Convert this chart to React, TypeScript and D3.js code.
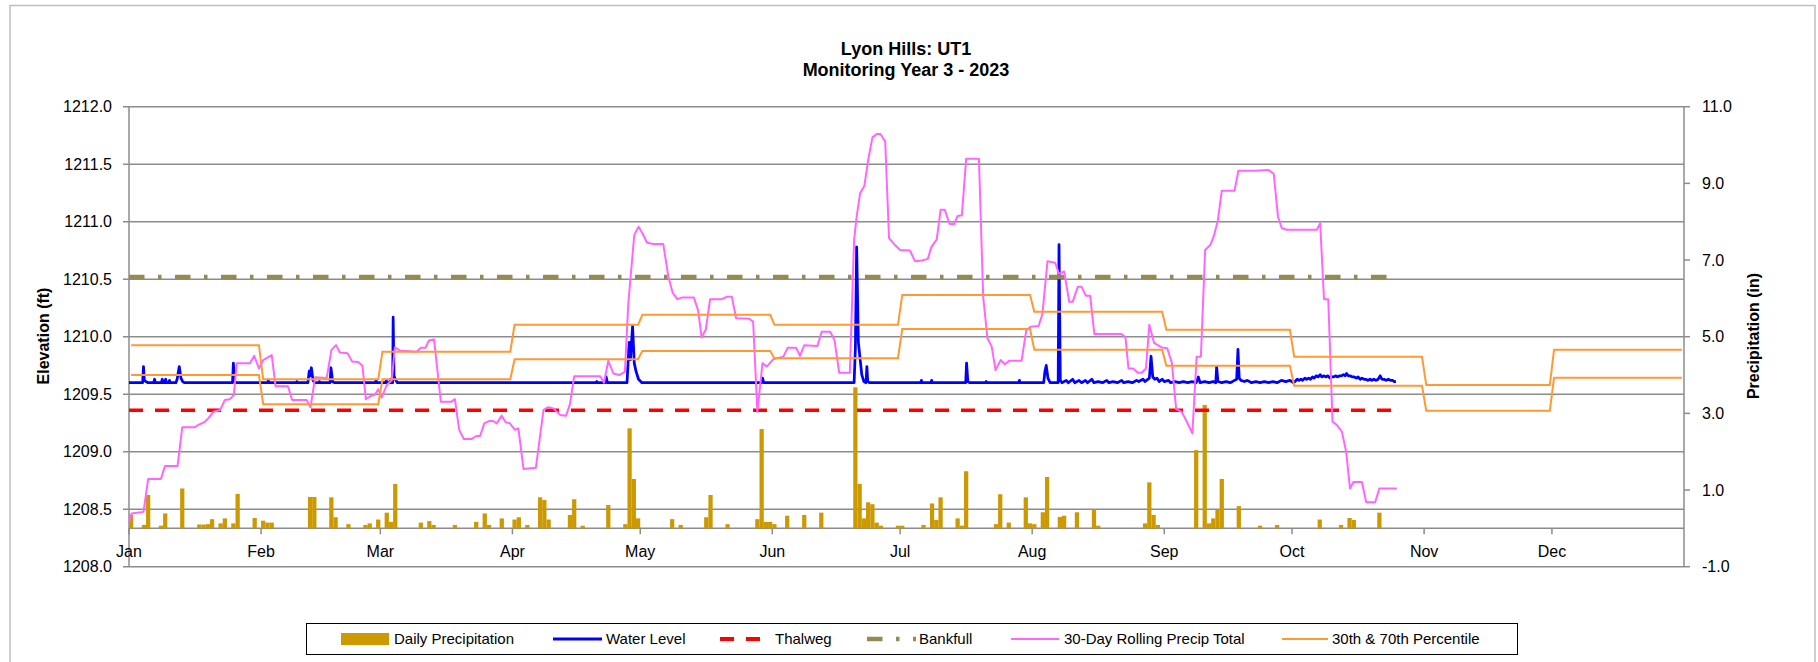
import React from "react";
import * as d3 from "d3";

// chart text
const TITLE = "Lyon Hills: UT1";
const SUBTITLE = "Monitoring Year 3 - 2023";
const LEFT_TITLE = "Elevation (ft)";
const RIGHT_TITLE = "Precipitation (in)";

// axis ticks
const MONTHS = ["Jan", "Feb", "Mar", "Apr", "May", "Jun", "Jul", "Aug", "Sep", "Oct", "Nov", "Dec"];
const MONTH_START = [0, 31, 59, 90, 120, 151, 181, 212, 243, 273, 304, 334];
const YEAR_DAYS = 365;
const ELEV_TICKS = [1208.0, 1208.5, 1209.0, 1209.5, 1210.0, 1210.5, 1211.0, 1211.5, 1212.0];
const PRECIP_TICKS = [-1, 1, 3, 5, 7, 9, 11];

// reference elevations (ft), drawn until the end of record (day of year)
const THALWEG = 1209.36;
const BANKFULL = 1210.52;
const RECORD_END = 297.4;

// monthly 30th / 70th percentile precipitation (in)
const P70 = [4.78, 3.89, 4.61, 5.31, 5.57, 5.31, 6.09, 5.65, 5.18, 4.48, 3.74, 4.66];
const P30 = [4.0, 3.24, 3.89, 4.41, 4.63, 4.44, 5.2, 4.66, 4.24, 3.72, 3.07, 3.93];

// daily precipitation (day of year, inches)
const RAIN_DAY = [
  0, 3, 4, 7, 8, 12, 16, 17, 18, 19, 21, 22, 24, 25, 29, 31, 32, 33, 42, 43, 47, 48, 51, 55, 56, 58, 60, 61, 62,
  68, 70, 71, 76, 81, 83, 84, 87, 90, 91, 93, 96, 97, 98, 103, 104, 106, 112, 116, 117, 118, 119, 127, 129, 135,
  136, 140, 147, 148, 149, 150, 151, 154, 158, 162, 170, 171, 172, 173, 174, 175, 176, 180, 181, 186, 188, 189,
  190, 194, 195, 196, 203, 204, 206, 210, 211, 212, 214, 215, 218, 219, 222, 226, 227, 238, 239, 240, 241, 250,
  252, 253, 254, 255, 256, 260, 265, 269, 279, 284, 286, 287, 293,
];
const RAIN_IN = [
  0.35, 0.09, 0.87, 0.07, 0.39, 1.04, 0.1, 0.1, 0.11, 0.24, 0.13, 0.26, 0.13, 0.9, 0.27, 0.2, 0.15, 0.15, 0.82,
  0.82, 0.81, 0.29, 0.11, 0.09, 0.13, 0.23, 0.41, 0.17, 1.16, 0.15, 0.19, 0.09, 0.09, 0.17, 0.39, 0.09, 0.26,
  0.23, 0.29, 0.09, 0.81, 0.74, 0.23, 0.35, 0.76, 0.07, 0.61, 0.11, 2.61, 1.29, 0.26, 0.24, 0.09, 0.29, 0.87,
  0.11, 0.24, 2.59, 0.17, 0.17, 0.11, 0.33, 0.35, 0.41, 3.68, 1.16, 0.26, 0.68, 0.63, 0.15, 0.07, 0.07, 0.07,
  0.09, 0.65, 0.22, 0.81, 0.26, 0.07, 1.49, 0.11, 0.89, 0.15, 0.81, 0.13, 0.11, 0.42, 1.34, 0.3, 0.33, 0.42, 0.5,
  0.07, 0.13, 1.2, 0.35, 0.09, 2.04, 3.22, 0.13, 0.26, 0.5, 1.29, 0.58, 0.07, 0.09, 0.23, 0.09, 0.27, 0.22, 0.41,
];

// 30-day rolling precipitation total (day of year, inches)
const ROLL30: [number, number][] = [
  [0, 0.17], [0.6, 0.39], [3.4, 0.43], [4.5, 1.29], [7.5, 1.29], [8.45, 1.63], [11.4, 1.63], [12.5, 2.64],
  [15.5, 2.64], [16.3, 2.7], [17.8, 2.78], [18.6, 2.87], [19.8, 3.04], [21.4, 3.09], [22.5, 3.35], [23.7, 3.37],
  [24.6, 3.48], [25.3, 4.31], [28.4, 4.31], [29.4, 4.5], [30.5, 4.17], [31.5, 4.39], [33.5, 4.52], [34.4, 3.71],
  [37.3, 3.71], [38.3, 3.35], [41.7, 3.35], [42.6, 3.16], [43.7, 3.94], [46.4, 3.92], [47.5, 4.65], [48.6, 4.78],
  [49.5, 4.59], [51.3, 4.57], [52.4, 4.35], [53.8, 4.34], [54.8, 4.24], [55.6, 3.37], [56.8, 3.46], [57.7, 3.48],
  [58.5, 3.63], [59.3, 3.41], [60.5, 3.74], [61.7, 3.87], [62.4, 4.72], [63.6, 4.64], [67.5, 4.61], [68.5, 4.71],
  [69.6, 4.71], [70.4, 4.9], [71.6, 4.93], [73.2, 3.3], [75.6, 3.3], [76.5, 3.37], [77.5, 2.57], [78.6, 2.33],
  [80.4, 2.33], [81.5, 2.41], [82.4, 2.41], [83.4, 2.74], [84.5, 2.8], [85.5, 2.8], [86.3, 2.74], [87.5, 2.94],
  [88.4, 2.77], [89.4, 2.74], [90.6, 2.57], [91.4, 2.61], [92.6, 1.55], [95.5, 1.58], [97.3, 3.09], [98.4, 3.16],
  [99.6, 3.13], [101.2, 2.96], [102.6, 2.94], [103.5, 3.24], [104.5, 3.97], [110.6, 3.97], [111.5, 3.8],
  [112.5, 4.37], [113.7, 4.04], [115.1, 4.0], [116.4, 4.09], [117.2, 5.87], [118.6, 7.65], [119.6, 7.87],
  [120.6, 7.68], [121.6, 7.45], [123.1, 7.42], [125.4, 7.42], [126.6, 6.57], [127.6, 6.15], [128.7, 5.98],
  [129.7, 6.02], [132.6, 6.02], [133.6, 5.68], [134.4, 4.98], [135.4, 5.19], [136.4, 5.98], [139.1, 5.98],
  [140.3, 6.04], [141.5, 6.04], [142.5, 5.48], [145.6, 5.47], [146.5, 5.39], [147.5, 3.04], [148.7, 4.31],
  [149.7, 4.22], [151.2, 4.41], [153.6, 4.48], [154.6, 4.71], [156.6, 4.71], [157.5, 4.5], [158.5, 4.78],
  [161.6, 4.76], [162.6, 5.13], [164.6, 5.13], [165.6, 4.91], [166.7, 4.06], [169.2, 4.06], [170.2, 7.52],
  [170.8, 8.13], [171.6, 8.74], [172.6, 8.93], [173.5, 9.61], [174.5, 10.2], [175.5, 10.29], [176.4, 10.29],
  [177.5, 10.09], [178.4, 7.57], [179.8, 7.39], [181.0, 7.26], [183.3, 7.25], [184.5, 6.97], [186.1, 6.99],
  [187.5, 7.03], [188.3, 7.33], [189.6, 7.54], [190.5, 8.31], [191.5, 8.31], [192.6, 7.94], [193.7, 7.94],
  [194.5, 8.15], [195.5, 8.17], [196.5, 9.64], [199.5, 9.64], [200.5, 6.04], [201.5, 4.96], [202.5, 4.74],
  [203.4, 4.13], [204.6, 4.39], [205.6, 4.28], [206.6, 4.37], [209.5, 4.37], [210.6, 5.16], [211.6, 5.26],
  [213.5, 5.28], [214.4, 5.59], [215.6, 6.97], [217.4, 6.93], [218.3, 6.64], [219.5, 6.7], [220.7, 5.91],
  [221.5, 5.91], [222.7, 6.3], [223.6, 6.3], [224.6, 6.07], [225.6, 6.07], [226.6, 5.07], [233.0, 5.07],
  [233.9, 4.98], [234.6, 4.17], [235.7, 4.17], [236.8, 4.06], [237.7, 4.06], [238.7, 4.17], [239.5, 5.31],
  [240.6, 4.84], [242.4, 4.72], [243.7, 4.7], [244.8, 4.31], [245.8, 3.11], [247.1, 3.04], [248.3, 2.78],
  [249.6, 2.48], [250.6, 4.48], [251.6, 4.48], [252.6, 7.26], [253.8, 7.39], [254.6, 7.61], [255.6, 8.04],
  [256.5, 8.81], [259.5, 8.81], [260.4, 9.33], [264.3, 9.33], [267.5, 9.35], [268.7, 9.25], [269.7, 8.13],
  [270.6, 7.83], [271.8, 7.79], [278.8, 7.79], [279.6, 7.96], [280.5, 5.98], [281.5, 5.98], [282.5, 2.78],
  [283.5, 2.7], [284.7, 2.52], [285.7, 2.0], [286.6, 1.04], [287.4, 1.21], [289.4, 1.21], [290.4, 0.68],
  [292.5, 0.68], [293.5, 1.04], [297.6, 1.04],
];

// water level (day of year, ft)
const WATER: [number, number][] = [
  [0, 1209.6], [3.2, 1209.6], [3.4, 1209.74], [3.6, 1209.62], [4.0, 1209.61], [4.4, 1209.6], [5.8, 1209.6],
  [6.0, 1209.63], [6.2, 1209.6], [7.6, 1209.6], [7.8, 1209.63], [8.0, 1209.6], [8.4, 1209.6], [8.6, 1209.63],
  [8.8, 1209.6], [9.3, 1209.6], [9.5, 1209.62], [9.7, 1209.6], [11.0, 1209.6], [11.3, 1209.63], [11.8, 1209.74],
  [12.2, 1209.64], [12.6, 1209.61], [13.0, 1209.6], [24.3, 1209.6], [24.5, 1209.77], [24.8, 1209.61],
  [25.2, 1209.6], [32.5, 1209.6], [32.7, 1209.62], [32.9, 1209.6], [39.2, 1209.6], [39.4, 1209.61],
  [39.6, 1209.6], [42.0, 1209.6], [42.3, 1209.7], [42.5, 1209.66], [42.8, 1209.73], [43.2, 1209.62],
  [43.6, 1209.6], [44.5, 1209.6], [44.7, 1209.61], [44.9, 1209.6], [47.2, 1209.6], [47.4, 1209.73],
  [47.8, 1209.61], [48.2, 1209.6], [57.8, 1209.6], [58.0, 1209.62], [58.2, 1209.6], [60.2, 1209.6],
  [60.4, 1209.62], [60.6, 1209.6], [61.2, 1209.6], [61.4, 1209.63], [61.6, 1209.6], [61.9, 1209.6],
  [62.0, 1210.17], [62.2, 1209.66], [62.5, 1209.63], [63.0, 1209.6], [109.6, 1209.6], [109.8, 1209.61],
  [110.0, 1209.6], [111.8, 1209.6], [112.0, 1209.65], [112.3, 1209.6], [116.9, 1209.6], [117.4, 1209.95],
  [117.7, 1209.8], [118.2, 1210.09], [118.6, 1209.77], [119.0, 1209.7], [119.6, 1209.63], [120.4, 1209.6],
  [148.5, 1209.6], [148.7, 1209.64], [149.0, 1209.6], [170.2, 1209.6], [170.5, 1209.9], [170.8, 1210.78],
  [171.2, 1209.95], [171.6, 1209.81], [172.0, 1209.67], [172.5, 1209.61], [173.0, 1209.6], [173.2, 1209.74],
  [173.4, 1209.61], [173.8, 1209.6], [185.8, 1209.6], [186.0, 1209.62], [186.2, 1209.6], [188.2, 1209.6],
  [188.4, 1209.62], [188.6, 1209.6], [196.4, 1209.6], [196.6, 1209.77], [196.9, 1209.61], [197.3, 1209.6],
  [201.0, 1209.6], [201.2, 1209.61], [201.4, 1209.6], [208.8, 1209.6], [209.0, 1209.62], [209.2, 1209.6],
  [214.7, 1209.6], [215.0, 1209.7], [215.3, 1209.75], [215.7, 1209.64], [216.2, 1209.6], [218.1, 1209.6],
  [218.3, 1210.8], [218.6, 1209.62], [219.0, 1209.6], [220.0, 1209.62], [220.5, 1209.6], [221.5, 1209.63],
  [222.0, 1209.6], [223.0, 1209.62], [223.6, 1209.6], [224.5, 1209.62], [225.0, 1209.6], [226.0, 1209.63],
  [226.5, 1209.6], [227.5, 1209.61], [228.5, 1209.6], [229.5, 1209.62], [230.0, 1209.6], [231.0, 1209.61],
  [232.0, 1209.6], [233.0, 1209.62], [233.5, 1209.6], [234.5, 1209.61], [235.5, 1209.6], [236.5, 1209.62],
  [237.0, 1209.61], [238.0, 1209.63], [238.5, 1209.61], [239.5, 1209.64], [239.9, 1209.83], [240.3, 1209.65],
  [240.8, 1209.63], [241.3, 1209.64], [241.8, 1209.61], [242.5, 1209.63], [243.0, 1209.61], [244.0, 1209.62],
  [244.5, 1209.6], [245.5, 1209.61], [246.5, 1209.6], [247.5, 1209.61], [248.5, 1209.6], [249.5, 1209.61],
  [250.5, 1209.6], [251.0, 1209.65], [251.4, 1209.6], [252.5, 1209.61], [253.5, 1209.6], [254.5, 1209.61],
  [255.1, 1209.6], [255.3, 1209.74], [255.6, 1209.61], [256.5, 1209.6], [257.5, 1209.61], [258.5, 1209.6],
  [259.5, 1209.62], [260.0, 1209.63], [260.3, 1209.89], [260.6, 1209.64], [261.0, 1209.62], [261.8, 1209.61],
  [262.5, 1209.62], [263.5, 1209.6], [264.5, 1209.61], [265.5, 1209.6], [266.5, 1209.61], [267.5, 1209.6],
  [268.5, 1209.61], [269.5, 1209.6], [270.5, 1209.62], [271.5, 1209.61], [272.5, 1209.62], [273.3, 1209.6],
  [273.7, 1209.61], [274.2, 1209.63], [274.6, 1209.62], [275.1, 1209.63], [275.5, 1209.62], [276.0, 1209.64],
  [276.4, 1209.63], [276.9, 1209.64], [277.3, 1209.63], [277.8, 1209.65], [278.2, 1209.64], [278.7, 1209.66],
  [279.1, 1209.65], [279.6, 1209.67], [280.0, 1209.65], [280.5, 1209.66], [280.9, 1209.65], [281.4, 1209.66],
  [281.9, 1209.64], [282.3, 1209.65], [282.8, 1209.65], [283.2, 1209.66], [283.7, 1209.65], [284.1, 1209.66],
  [284.6, 1209.66], [285.1, 1209.67], [285.5, 1209.66], [285.8, 1209.68], [286.2, 1209.66], [286.7, 1209.66],
  [287.1, 1209.65], [287.6, 1209.65], [288.1, 1209.64], [288.5, 1209.65], [289.0, 1209.63], [289.4, 1209.64],
  [289.9, 1209.63], [290.3, 1209.63], [290.8, 1209.62], [291.3, 1209.63], [291.7, 1209.62], [292.2, 1209.63],
  [292.7, 1209.62], [293.2, 1209.63], [293.7, 1209.66], [294.1, 1209.63], [294.6, 1209.63], [295.1, 1209.62],
  [295.6, 1209.63], [296.1, 1209.62], [296.6, 1209.62], [297.0, 1209.61], [297.4, 1209.61],
];

// colours
const C_RAIN = "#CC9900";
const C_WATER = "#0000FF";
const C_THALWEG = "#FF0000";
const C_BANKFULL = "#948A54";
const C_ROLL = "#FF66FF";
const C_PCT = "#FF9933";
const C_GRID = "#8C8C8C";

const FONT = "'Liberation Sans', Arial, sans-serif";
const W = 1818;
const H = 662;
const PLOT = { left: 129, right: 1684, top: 106.7, bottom: 566.7 };

const BANK_DASH = "15.5 13.5 3.5 13.5";
const THAL_DASH = "14 12";

// monthly steps -> points at first and last day of each month (plotted at mid-day)
const stepPoints = (vals: number[]): [number, number][] => {
  const pts: [number, number][] = [];
  vals.forEach((v, i) => {
    const end = i < 11 ? MONTH_START[i + 1] - 1 : YEAR_DAYS - 1;
    pts.push([MONTH_START[i] + 0.5, v]);
    pts.push([end + 0.5, v]);
  });
  return pts;
};

const App: React.FC = () => {
  const x = d3.scaleLinear().domain([0, YEAR_DAYS]).range([PLOT.left, PLOT.right]);
  const yE = d3.scaleLinear().domain([1208, 1212]).range([PLOT.bottom, PLOT.top]);
  const yP = d3.scaleLinear().domain([-1, 11]).range([PLOT.bottom, PLOT.top]);

  const elevLine = d3
    .line<[number, number]>()
    .x((d) => x(d[0]))
    .y((d) => yE(d[1]));
  const precipLine = d3
    .line<[number, number]>()
    .x((d) => x(d[0]))
    .y((d) => yP(d[1]));

  const zeroY = yP(0);

  // legend entries
  const legendY = 639;
  const legend = [
    { label: "Daily Precipitation", x0: 341, x1: 389, tx: 394, kind: "rect", color: C_RAIN },
    { label: "Water Level", x0: 553, x1: 602, tx: 606, kind: "line", color: C_WATER, w: 3 },
    { label: "Thalweg", x0: 720, x1: 762, tx: 775, kind: "line", color: C_THALWEG, w: 4, dash: THAL_DASH },
    { label: "Bankfull", x0: 867, x1: 916, tx: 919, kind: "line", color: C_BANKFULL, w: 4.5, dash: BANK_DASH },
    { label: "30-Day Rolling Precip Total", x0: 1011, x1: 1059, tx: 1064, kind: "line", color: C_ROLL, w: 2 },
    { label: "30th & 70th Percentile", x0: 1282, x1: 1328, tx: 1332, kind: "line", color: C_PCT, w: 2 },
  ];

  return (
    <svg
      width={W}
      height={H}
      style={{ position: "absolute", left: 0, top: 0, background: "#fff", fontFamily: FONT }}
    >
      <rect x={0} y={0} width={W} height={H} fill="#fff" />
      {/* outer chart frame */}
      <rect x={10} y={5.5} width={1805} height={700} fill="none" stroke="#BFBFBF" strokeWidth={1.5} />

      {/* titles */}
      <text x={906} y={55} textAnchor="middle" fontSize={18} fontWeight="bold" fill="#000">
        {TITLE}
      </text>
      <text x={906} y={76} textAnchor="middle" fontSize={18} fontWeight="bold" fill="#000">
        {SUBTITLE}
      </text>

      {/* gridlines + left ticks */}
      {ELEV_TICKS.map((v) => (
        <g key={v}>
          <line x1={PLOT.left - 6} x2={PLOT.right} y1={yE(v)} y2={yE(v)} stroke={C_GRID} strokeWidth={1.5} />
          <text x={112} y={yE(v) + 5.7} textAnchor="end" fontSize={16} fill="#000">
            {v.toFixed(1)}
          </text>
        </g>
      ))}

      {/* axes */}
      <line x1={PLOT.left} x2={PLOT.left} y1={PLOT.top} y2={PLOT.bottom} stroke={C_GRID} strokeWidth={1.5} />
      <line x1={PLOT.right} x2={PLOT.right} y1={PLOT.top} y2={PLOT.bottom} stroke={C_GRID} strokeWidth={1.5} />
      {PRECIP_TICKS.map((v) => (
        <g key={v}>
          <line x1={PLOT.right} x2={PLOT.right + 6} y1={yP(v)} y2={yP(v)} stroke={C_GRID} strokeWidth={1.5} />
          <text x={1702} y={yP(v) + 5.7} fontSize={16} fill="#000">
            {v.toFixed(1)}
          </text>
        </g>
      ))}

      {/* secondary x-axis at 0 in */}
      <line x1={PLOT.left} x2={PLOT.right} y1={zeroY} y2={zeroY} stroke={C_GRID} strokeWidth={1.5} />
      {MONTH_START.map((d, i) => (
        <g key={d}>
          <line x1={x(d)} x2={x(d)} y1={zeroY} y2={zeroY + 6} stroke={C_GRID} strokeWidth={1.5} />
          <text x={x(d)} y={557} textAnchor="middle" fontSize={16} fill="#000">
            {MONTHS[i]}
          </text>
        </g>
      ))}

      {/* axis titles */}
      <text
        transform={`translate(49, 336) rotate(-90)`}
        textAnchor="middle"
        fontSize={16}
        fontWeight="bold"
        fill="#000"
      >
        {LEFT_TITLE}
      </text>
      <text
        transform={`translate(1759, 336) rotate(-90)`}
        textAnchor="middle"
        fontSize={16}
        fontWeight="bold"
        fill="#000"
      >
        {RIGHT_TITLE}
      </text>

      {/* daily precipitation bars */}
      {RAIN_DAY.map((d, i) => (
        <rect
          key={d}
          x={x(d)}
          y={yP(RAIN_IN[i])}
          width={x(d + 1) - x(d)}
          height={zeroY - yP(RAIN_IN[i])}
          fill={C_RAIN}
        />
      ))}

      {/* water level */}
      <path d={elevLine(WATER) || ""} fill="none" stroke={C_WATER} strokeWidth={2.75} strokeLinejoin="round" />

      {/* thalweg & bankfull */}
      <path
        d={elevLine([[0, THALWEG], [RECORD_END, THALWEG]]) || ""}
        fill="none"
        stroke={C_THALWEG}
        strokeWidth={3.5}
        strokeDasharray={THAL_DASH}
      />
      <path
        d={elevLine([[0, BANKFULL], [RECORD_END, BANKFULL]]) || ""}
        fill="none"
        stroke={C_BANKFULL}
        strokeWidth={4.5}
        strokeDasharray={BANK_DASH}
      />

      {/* 30-day rolling total */}
      <path d={precipLine(ROLL30) || ""} fill="none" stroke={C_ROLL} strokeWidth={2} strokeLinejoin="round" />

      {/* percentiles */}
      <path d={precipLine(stepPoints(P70)) || ""} fill="none" stroke={C_PCT} strokeWidth={2} />
      <path d={precipLine(stepPoints(P30)) || ""} fill="none" stroke={C_PCT} strokeWidth={2} />

      {/* legend */}
      <rect x={306.5} y={623.5} width={1211} height={31} fill="#fff" stroke="#000" strokeWidth={1} />
      {legend.map((l) => (
        <g key={l.label}>
          {l.kind === "rect" ? (
            <rect x={l.x0} y={legendY - 6} width={l.x1 - l.x0} height={12} fill={l.color} />
          ) : (
            <line
              x1={l.x0}
              x2={l.x1}
              y1={legendY}
              y2={legendY}
              stroke={l.color}
              strokeWidth={l.w}
              strokeDasharray={l.dash}
            />
          )}
          <text x={l.tx} y={legendY + 5.2} fontSize={15} fill="#000">
            {l.label}
          </text>
        </g>
      ))}
    </svg>
  );
};

export default App;
